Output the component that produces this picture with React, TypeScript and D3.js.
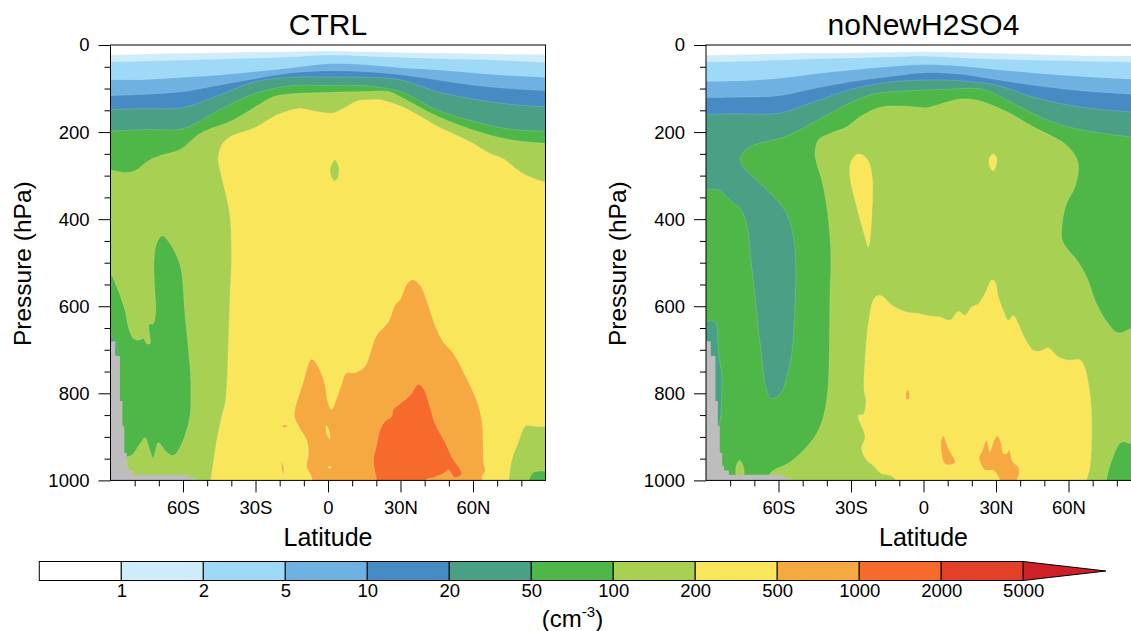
import * as React from 'react';
import * as d3 from 'd3';

type Pt = [number, number]; // [latitude, pressure hPa]

const colors = ['#ffffff', '#cfecfb', '#9ed9f8', '#6fb1e0', '#478bc4', '#49a085', '#4eb748', '#a8d154', '#fae65a', '#f7a941', '#f66a2b', '#e34127', '#cf2027'];
const levelLabels = ['1', '2', '5', '10', '20', '50', '100', '200', '500', '1000', '2000', '5000'];
const missingColor = '#bdbdbd';

const majorLat = [-60, -30, 0, 30, 60];
const minorLat = [-80, -70, -50, -40, -20, -10, 10, 20, 40, 50, 70, 80];
const majorP = [0, 200, 400, 600, 800, 1000];
const minorP = [100, 300, 500, 700, 900, 50, 150, 250, 350, 450, 550, 650, 750, 850, 950];

// upper contours, sampled every 15 degrees
const bandLat = [-90, -75, -60, -45, -30, -15, 0, 15, 30, 45, 60, 75, 90];

const ctrlP1 = [23, 20.7, 19, 17.6, 16, 15.3, 13.8, 15.3, 17, 18.5, 20, 21.5, 23];
const ctrlP2 = [39, 37, 34.5, 32, 30, 27, 23, 25, 28, 31, 33, 36, 40];
const ctrlP5 = [80, 79, 74, 69, 61, 52, 43, 45, 52, 57, 64, 70, 74];
const ctrlP10 = [116, 113, 107, 92, 77, 64, 59, 61, 68, 80, 92, 100, 105];
const ctrlP20 = [148, 146, 144, 115, 84, 74, 74, 74, 80, 107, 124, 136, 142];
const ctrlP50 = [198, 194, 192, 149, 111, 93.5, 93, 93.5, 107, 149, 175, 193, 198];
const ctrlP100: Pt[] = [[-90, 287], [-83.3, 293], [-79.2, 287], [-74.9, 268], [-69.4, 254], [-61.2, 240], [-52.9, 203], [-39.1, 172], [-30, 142], [-22.6, 119], [-15, 112], [0, 109], [15, 107], [25, 107], [30, 119], [36.7, 139], [45, 163], [60, 195], [75, 217], [90, 226]];

const ctrlLobe: Pt[] = [[-68.55, 438.3], [-65.4, 456], [-61.9, 494], [-60.5, 525], [-59.2, 617], [-57.1, 739.5], [-56.7, 801], [-57.4, 862], [-61.2, 923.4], [-64, 942.5], [-66.8, 935], [-70.2, 913.4], [-72.3, 948.7], [-73.7, 931], [-75.7, 902], [-77.8, 916], [-81.2, 942.5], [-83.3, 946.4], [-86, 992], [-94.3, 992], [-94.3, 529], [-89.9, 529], [-87.4, 555.6], [-84, 609], [-82.6, 647.5], [-80.5, 674], [-78.5, 678], [-76.4, 674], [-75, 686], [-73.65, 686], [-74, 642], [-72.3, 640], [-71.3, 609], [-71.6, 571], [-72, 494], [-70.9, 456]];
const ctrlTealSpot: Pt[] = [[-90, 669], [-88.5, 675], [-87.3, 712], [-90, 712]];
const ctrlYellow: Pt[] = [[-45.4, 260.5], [-44, 230], [-40.5, 211], [-29.5, 188], [-21.2, 161], [-11.6, 146], [-4.7, 153], [2.2, 156], [6.3, 146], [11.9, 129], [17.4, 126], [21.5, 126], [29.8, 140], [36.7, 159], [45, 186], [53.2, 207], [60.1, 226], [67, 249], [72.5, 261], [79.4, 291], [85, 306], [90, 315], [100, 330], [130, 700], [100, 1150], [-20, 1150], [-50, 1060], [-48.5, 1000], [-46, 908], [-44, 854], [-42.6, 824], [-41.9, 785], [-41.2, 686], [-40.5, 571], [-39.9, 494], [-39.9, 471], [-40.5, 395], [-42, 349], [-44, 303]];
const ctrlHole: Pt[] = [[2.9, 264], [4.5, 281], [4, 306], [2.6, 312], [1.1, 299], [1, 281]];
const ctrlCornerLight: Pt[] = [[74.8, 1000], [76, 954], [78.8, 912], [81.8, 875], [86.4, 877], [90.5, 876], [100, 876], [105, 1100], [74, 1060]];
const ctrlCornerGreen: Pt[] = [[83.2, 998], [85, 982], [87, 979], [90.5, 979], [100, 979], [100, 1080], [82, 1060]];
const ctrlOrange: Pt[] = [[-13.9, 850.6], [-10.2, 774], [-6.8, 722], [-4, 739.5], [-1.2, 782], [-0.3, 816], [1.5, 837], [3.6, 812], [5.7, 778], [7.7, 753], [11.2, 753], [15.3, 738], [17.4, 709], [20.1, 667], [25, 636], [27.7, 598], [29.8, 585], [32.8, 548], [35, 539], [38.1, 552], [40.8, 586], [44.3, 644], [47.7, 682], [51.9, 709], [57.4, 766], [61.5, 816], [63.6, 862], [64.5, 962], [65.1, 977], [63.6, 992], [65, 1008], [64.3, 1076], [-3.3, 1076], [-6, 1023], [-6.8, 992], [-8.8, 969.4], [-8.1, 939], [-8.8, 908], [-12.3, 874]];
const ctrlSpeck1: Pt[] = [[-18.6, 873], [-16.3, 875], [-18.6, 878]];
const ctrlSpeck2: Pt[] = [[-19.4, 958], [-18.2, 972], [-18.5, 986], [-19, 975]];
const ctrlSlit1: Pt[] = [[-0.8, 873], [0.6, 889], [0.8, 906], [-0.6, 893]];
const ctrlSlit2: Pt[] = [[0, 968], [1.5, 969], [0.5, 973]];
const ctrlDeep: Pt[] = [[37.4, 779], [39.5, 789], [42.2, 831.4], [44.3, 870], [48.4, 912], [51.2, 946.4], [55.3, 985], [52.6, 994], [49.8, 975.5], [47.7, 985], [44.3, 992], [40.1, 1001], [39.4, 1046], [20.8, 1046], [20.1, 1000], [18.8, 954], [20.1, 920], [21.5, 885], [23.6, 864], [26.3, 854.4], [27, 837], [29.8, 824], [33.9, 805]];

const noP1 = [23.8, 22, 20, 18.5, 17.6, 16.5, 15.3, 16.9, 19, 21.5, 23.8, 25.3, 25.5];
const noP2 = [39, 37.5, 34.5, 31.4, 30, 27.6, 25.3, 29, 32, 34.5, 36, 38, 40];
const noP5 = [83.5, 82, 76.6, 66, 57.5, 50, 45, 48, 56, 63.6, 70, 75, 79];
const noP10 = [121, 119.5, 116.5, 99.6, 84, 73, 63.6, 66.7, 79, 92, 102, 109, 114];
const noP20 = [158.6, 158, 157, 130, 102, 86, 80.5, 82, 92, 119, 138, 149, 155];

const noLight: Pt[] = [[-44.9, 249], [-43.5, 218], [-38.7, 203], [-31.8, 188], [-26.3, 165], [-18, 143], [-11.1, 140], [-1.4, 143], [1.3, 144], [6.8, 136], [13.7, 125], [20.6, 125], [27.5, 136], [35.8, 157], [45.5, 188], [53.7, 211], [59.2, 230], [63.4, 260.5], [64.1, 287], [62.7, 326], [59.2, 364], [57.4, 410], [57.4, 448], [59.9, 471], [63.4, 494], [67.5, 533], [71.6, 594], [76.5, 640], [80.6, 661], [85.9, 651], [92, 644], [100, 800], [100, 1100], [-61, 1100], [-63.5, 1031], [-63.5, 985], [-55.2, 958], [-48.3, 923], [-43.5, 885], [-40.8, 839], [-39.4, 778], [-38.7, 571], [-38.3, 494], [-38.7, 440.6], [-40, 372], [-42.1, 310], [-44.2, 272]];
const noYellow: Pt[] = [[-18.7, 575], [-16.6, 578.5], [-12.5, 600], [-7, 613], [-1.4, 617], [1.3, 621], [6.8, 624.5], [11, 632], [14.4, 611.5], [17.2, 621], [19.9, 601.5], [22.7, 594], [26.1, 563], [28.2, 540], [29.6, 544], [31, 578.5], [33, 609], [35.1, 632], [37.2, 621], [39.2, 640], [42, 674], [45.4, 701], [48.2, 703], [51.7, 696], [55.8, 716.5], [60.6, 724], [64.1, 722], [66.1, 732], [68.9, 801], [69.6, 877], [68.9, 969], [67.5, 1000], [67.5, 1046], [-11.8, 1046], [-11.8, 996], [-13.9, 988.5], [-17.3, 985], [-20.8, 965.5], [-23.5, 954], [-25.6, 927], [-24.2, 900], [-27, 850.6], [-24.9, 848], [-23.8, 816], [-24.6, 793], [-24.2, 724], [-22.8, 640], [-20.8, 586]];
const noTongue: Pt[] = [[-27, 250.6], [-23.5, 260.5], [-21.4, 295], [-21.4, 394.6], [-22.8, 463.6], [-24.2, 440.6], [-27.6, 372], [-30.4, 302.7], [-30, 268]];
const noDrop: Pt[] = [[28.9, 250.6], [30.3, 260.5], [29.6, 283.5], [28.6, 289], [27.5, 279.7], [27.2, 260.5]];
const noSpeck: Pt[] = [[-7, 794.6], [-6.3, 793], [-5.9, 812], [-7, 814]];
const noOrange1: Pt[] = [[8.2, 898], [10.3, 927], [13, 959.4], [8.9, 961.7], [7.2, 912]];
const noOrange2: Pt[] = [[26.1, 908], [27.5, 935], [29.2, 908], [30.6, 898], [32, 912], [33, 938.7], [34.4, 938.7], [35.5, 931], [36.9, 958], [39.2, 969], [39.5, 985], [38.6, 1000], [38.6, 1046], [31.7, 1046], [31.7, 1000], [28.9, 977], [25.4, 975.5], [23, 946.4], [24.1, 935]];
const noTeal: Pt[] = [[93.7, 214.6], [85.9, 211], [74.4, 203], [60.6, 189], [49.6, 168.6], [35.8, 130], [24.8, 102], [8.2, 102], [-5.6, 105], [-19.4, 111], [-27.6, 126], [-41.4, 165], [-56.6, 209], [-71.8, 234], [-75.7, 257], [-74.6, 280], [-70.4, 303], [-59.4, 364], [-56, 394.6], [-53.2, 463.6], [-52.9, 517], [-52.8, 532.6], [-54.5, 709], [-56.6, 762.5], [-58.7, 797], [-62.8, 812], [-64.9, 793], [-67.6, 686], [-70.4, 540], [-71.4, 494], [-73.2, 410], [-75.9, 375.5], [-79.4, 360], [-84.9, 333], [-89.7, 332], [-94, 332], [-100, -40], [100, -40]];
const noStrip: Pt[] = [[-90, 636], [-87.7, 632], [-85.9, 640], [-84.9, 701], [-83.5, 762.5], [-83.5, 801], [-84.9, 873.6], [-87, 873.6], [-93.9, 724], [-93.9, 636]];
const noBlob: Pt[] = [[-77.7, 973], [-76.2, 954], [-74.5, 969], [-74.5, 988.5], [-77.3, 988.5]];
const noCorner: Pt[] = [[75.8, 998], [77.9, 954], [82, 912], [85.9, 916], [91, 920], [91, 1046], [75.1, 1046]];

// missing data under the surface: latitude of each step and its surface pressure
const surfaceLat = [-90, -88, -86.1, -85.1, -84.3, -83.3, -82.5, -80.5, -58, -55, -50];
const surfaceP = [680.5, 714, 817.6, 875, 936.4, 967, 977, 987, 994, 1000, 1000];

const zip = (lat: number[], p: number[]): Pt[] => lat.map((d, i) => [d, p[i]]);

const ctrlPanel = {
  title: 'CTRL',
  left: 110.5,
  base: 7,
  patches: [
    { level: 6, pts: ctrlLobe },
    { level: 5, pts: ctrlTealSpot },
    { level: 8, pts: ctrlYellow },
    { level: 7, pts: ctrlHole },
    { level: 7, pts: ctrlCornerLight },
    { level: 6, pts: ctrlCornerGreen },
    { level: 9, pts: ctrlOrange },
    { level: 9, pts: ctrlSpeck1 },
    { level: 9, pts: ctrlSpeck2 },
    { level: 8, pts: ctrlSlit1 },
    { level: 8, pts: ctrlSlit2 },
    { level: 10, pts: ctrlDeep },
  ],
  bands: [
    { level: 6, pts: ctrlP100 },
    { level: 5, pts: zip(bandLat, ctrlP50) },
    { level: 4, pts: zip(bandLat, ctrlP20) },
    { level: 3, pts: zip(bandLat, ctrlP10) },
    { level: 2, pts: zip(bandLat, ctrlP5) },
    { level: 1, pts: zip(bandLat, ctrlP2) },
    { level: 0, pts: zip(bandLat, ctrlP1) },
  ],
};

const noPanel = {
  title: 'noNewH2SO4',
  left: 706,
  base: 6,
  patches: [
    { level: 7, pts: noLight },
    { level: 7, pts: noBlob },
    { level: 6, pts: noCorner },
    { level: 8, pts: noYellow },
    { level: 8, pts: noTongue },
    { level: 8, pts: noDrop },
    { level: 9, pts: noSpeck },
    { level: 9, pts: noOrange1 },
    { level: 9, pts: noOrange2 },
    { level: 5, pts: noTeal },
    { level: 5, pts: noStrip },
  ],
  bands: [
    { level: 4, pts: zip(bandLat, noP20) },
    { level: 3, pts: zip(bandLat, noP10) },
    { level: 2, pts: zip(bandLat, noP5) },
    { level: 1, pts: zip(bandLat, noP2) },
    { level: 0, pts: zip(bandLat, noP1) },
  ],
};

const FONT = '"Liberation Sans", Arial, sans-serif';
const latLabel = (d: number) => (d === 0 ? '0' : d < 0 ? `${-d}S` : `${d}N`);

function drawPanel(svg: any, panel: typeof ctrlPanel, id: string) {
  const x = d3.scaleLinear().domain([-90, 90]).range([panel.left, panel.left + 435]);
  const y = d3.scaleLinear().domain([0, 1000]).range([45, 480.4]);
  const g = svg.append('g');

  g.append('clipPath')
    .attr('id', id)
    .append('rect')
    .attr('x', x(-90))
    .attr('y', y(0))
    .attr('width', x(90) - x(-90))
    .attr('height', y(1000) - y(0));

  const plot = g.append('g').attr('clip-path', `url(#${id})`);

  plot
    .append('rect')
    .attr('x', x(-90))
    .attr('y', y(0))
    .attr('width', x(90) - x(-90))
    .attr('height', y(1000) - y(0))
    .attr('fill', colors[panel.base]);

  const closed = d3
    .line<Pt>()
    .x(d => x(d[0]))
    .y(d => y(d[1]))
    .curve(d3.curveCatmullRomClosed.alpha(0.5));

  const above = d3
    .area<Pt>()
    .x(d => x(d[0]))
    .y0(y(-20))
    .y1(d => y(d[1]))
    .curve(d3.curveCatmullRom.alpha(0.5));

  panel.patches.forEach(p => {
    plot
      .append('path')
      .attr('d', closed(p.pts))
      .attr('fill', colors[p.level])
      .attr('stroke', '#fff')
      .attr('stroke-opacity', 0.3)
      .attr('stroke-width', 0.5);
  });

  panel.bands.forEach(b => {
    plot
      .append('path')
      .attr('d', above(b.pts))
      .attr('fill', colors[b.level])
      .attr('stroke', '#fff')
      .attr('stroke-opacity', 0.3)
      .attr('stroke-width', 0.5);
  });

  // no data below the surface
  plot
    .append('path')
    .attr(
      'd',
      d3
        .area<Pt>()
        .x(d => x(d[0]))
        .y0(y(1010))
        .y1(d => y(d[1]))
        .curve(d3.curveStepAfter)(zip(surfaceLat, surfaceP))
    )
    .attr('fill', missingColor);

  g.append('rect')
    .attr('x', x(-90))
    .attr('y', y(0))
    .attr('width', x(90) - x(-90))
    .attr('height', y(1000) - y(0))
    .attr('fill', 'none')
    .attr('stroke', '#000');

  const styleAxis = (a: any) => {
    a.select('.domain').remove();
    a.selectAll('text').attr('font-family', FONT).attr('font-size', 18.5).attr('fill', '#000');
    a.selectAll('line').attr('stroke', '#000');
  };

  g.append('g')
    .attr('transform', `translate(${x(-90)},0)`)
    .call(d3.axisLeft(y).tickValues(majorP).tickSize(12).tickPadding(9).tickFormat(d => String(d)))
    .call(styleAxis);
  g.append('g')
    .attr('transform', `translate(${x(-90)},0)`)
    .call(d3.axisLeft(y).tickValues(minorP).tickSize(6).tickFormat(() => ''))
    .call(styleAxis);
  g.append('g')
    .attr('transform', `translate(0,${y(1000)})`)
    .call(d3.axisBottom(x).tickValues(majorLat).tickSize(12).tickPadding(8).tickFormat(d => latLabel(+d)))
    .call(styleAxis);
  g.append('g')
    .attr('transform', `translate(0,${y(1000)})`)
    .call(d3.axisBottom(x).tickValues(minorLat).tickSize(6).tickFormat(() => ''))
    .call(styleAxis);

  g.append('text')
    .attr('x', x(0))
    .attr('y', 34.5)
    .attr('text-anchor', 'middle')
    .attr('font-family', FONT)
    .attr('font-size', 30)
    .text(panel.title);
  g.append('text')
    .attr('x', x(0))
    .attr('y', 546)
    .attr('text-anchor', 'middle')
    .attr('font-family', FONT)
    .attr('font-size', 25)
    .text('Latitude');
  g.append('text')
    .attr('transform', `translate(${panel.left - 80},${y(500) + 1}) rotate(-90)`)
    .attr('text-anchor', 'middle')
    .attr('font-family', FONT)
    .attr('font-size', 24.5)
    .text('Pressure (hPa)');
}

function drawColorbar(svg: any) {
  const x = d3.scaleLinear().domain([0, 12]).range([39.3, 1023.2]);
  const y = d3.scaleLinear().domain([0, 1]).range([561.5, 580.5]);
  const g = svg.append('g');

  g.selectAll('rect')
    .data(colors.slice(0, 12))
    .join('rect')
    .attr('x', (_: string, i: number) => x(i))
    .attr('y', y(0))
    .attr('width', x(1) - x(0))
    .attr('height', y(1) - y(0))
    .attr('fill', (d: string) => d)
    .attr('stroke', '#000');

  g.append('path')
    .attr(
      'd',
      d3.line<Pt>().x(d => x(d[0])).y(d => y(d[1]))([
        [12, 0],
        [13.008, 0.5],
        [12, 1],
      ]) + 'Z'
    )
    .attr('fill', colors[12])
    .attr('stroke', '#000');

  g.append('g')
    .attr('transform', `translate(0,${y(1)})`)
    .call(
      d3
        .axisBottom(x)
        .tickValues(levelLabels.map((_, i) => i + 1))
        .tickSize(0)
        .tickPadding(3)
        .tickFormat((_, i) => levelLabels[i])
    )
    .call((a: any) => {
      a.select('.domain').remove();
      a.selectAll('text').attr('font-family', FONT).attr('font-size', 18.5).attr('fill', '#000');
    });

  const unit = g
    .append('text')
    .attr('x', 572.5)
    .attr('y', 627)
    .attr('text-anchor', 'middle')
    .attr('font-family', FONT)
    .attr('font-size', 24);
  unit.append('tspan').text('(cm');
  unit.append('tspan').attr('dy', -10).attr('font-size', 15).text('-3');
  unit.append('tspan').attr('dy', 10).text(')');
}

export default function App() {
  const ref = React.useRef<SVGSVGElement>(null);

  React.useEffect(() => {
    const svg = d3.select(ref.current);
    svg.selectAll('*').remove();
    drawPanel(svg, ctrlPanel, 'clip-ctrl');
    drawPanel(svg, noPanel as typeof ctrlPanel, 'clip-no');
    drawColorbar(svg);
  }, []);

  return (
    <svg
      ref={ref}
      width={1131}
      height={631}
      style={{ position: 'absolute', left: 0, top: 0, display: 'block', background: '#fff' }}
    />
  );
}
